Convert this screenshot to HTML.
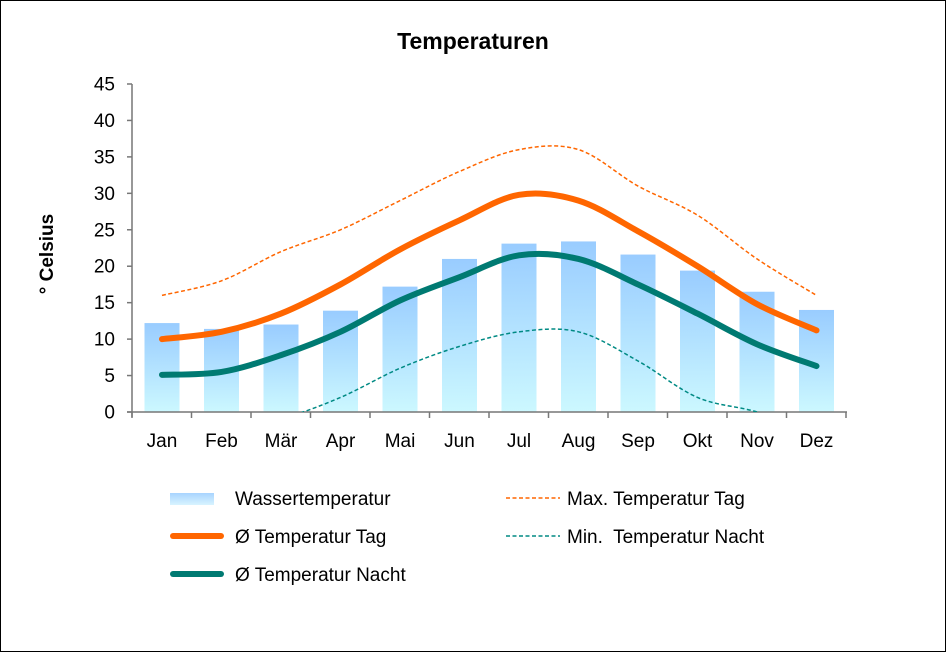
<!DOCTYPE html>
<html><head><meta charset="utf-8"><style>
html,body{margin:0;padding:0;background:#fff;}
svg{display:block;font-family:"Liberation Sans",sans-serif;}
</style></head><body>
<svg id="s" width="946" height="652" viewBox="0 0 946 652" xmlns="http://www.w3.org/2000/svg">
<defs>
<linearGradient id="bg" x1="0" y1="0" x2="0" y2="1">
<stop offset="0" stop-color="#99ccff"/><stop offset="1" stop-color="#ccf8ff"/></linearGradient>
<linearGradient id="lg" x1="0" y1="0" x2="0" y2="1">
<stop offset="0" stop-color="#a8d4ff"/><stop offset="1" stop-color="#d8f4ff"/></linearGradient>
<clipPath id="cp"><rect x="132" y="60" width="720" height="352"/></clipPath>
</defs>
<rect x="0.5" y="0.5" width="945" height="651" fill="#fff" stroke="#000" stroke-width="1"/>
<text x="473" y="49" text-anchor="middle" font-size="23" font-weight="bold">Temperaturen</text>
<text transform="translate(53,254) rotate(-90)" text-anchor="middle" font-size="19" font-weight="bold">° Celsius</text>
<g id="g"></g>
<rect x="170" y="493" width="44" height="12" fill="url(#lg)"/>
<text x="235" y="505" font-size="19">Wassertemperatur</text>
<line x1="173" y1="536" x2="221" y2="536" stroke="#ff6600" stroke-width="6" stroke-linecap="round"/>
<text x="235" y="543" font-size="19">Ø Temperatur Tag</text>
<line x1="173" y1="574" x2="221" y2="574" stroke="#007a72" stroke-width="6" stroke-linecap="round"/>
<text x="235" y="581" font-size="19">Ø Temperatur Nacht</text>
<line x1="506" y1="498" x2="560" y2="498" stroke="#ff6600" stroke-width="1.5" stroke-dasharray="4,2.5"/>
<text x="567" y="505" font-size="19">Max. Temperatur Tag</text>
<line x1="506" y1="536" x2="560" y2="536" stroke="#008a84" stroke-width="1.5" stroke-dasharray="4,2.5"/>
<text x="567" y="543" font-size="19" xml:space="preserve">Min.  Temperatur Nacht</text>
</svg>
<script>
var g=document.getElementById('g');
function Y(v){return 412-v*7.289;}
function X(i){return 162+i*59.5;}
var h='';
var bars=[12.2,11.4,12,13.9,17.2,21,23.1,23.4,21.6,19.4,16.5,14];
bars.forEach(function(b,i){h+='<rect x="'+(X(i)-17.5)+'" y="'+Y(b)+'" width="35" height="'+(412-Y(b))+'" fill="url(#bg)"/>';});
h+='<line x1="132" y1="84" x2="132" y2="417" stroke="#777" stroke-width="1.5"/>';
h+='<line x1="127" y1="412" x2="847" y2="412" stroke="#777" stroke-width="1.5"/>';
for(var v=0;v<=45;v+=5){var y=Y(v);h+='<line x1="127" y1="'+y+'" x2="132" y2="'+y+'" stroke="#777" stroke-width="1.5"/>';
h+='<text x="115" y="'+(y+6.5)+'" text-anchor="end" font-size="19">'+v+'</text>';}
var m=['Jan','Feb','Mär','Apr','Mai','Jun','Jul','Aug','Sep','Okt','Nov','Dez'];
for(var i=0;i<=12;i++){var x=132+i*59.5;h+='<line x1="'+x+'" y1="412" x2="'+x+'" y2="418" stroke="#777" stroke-width="1.5"/>';}
m.forEach(function(t,i){h+='<text x="'+X(i)+'" y="447" text-anchor="middle" font-size="19">'+t+'</text>';});
function path(d){var p=d.map(function(v,i){return [X(i),Y(v)];});
 var s='M'+p[0][0]+','+p[0][1];
 for(var i=0;i<p.length-1;i++){var p0=p[Math.max(0,i-1)],p1=p[i],p2=p[i+1],p3=p[Math.min(p.length-1,i+2)];
 var c1=[p1[0]+(p2[0]-p0[0])/6,p1[1]+(p2[1]-p0[1])/6],c2=[p2[0]-(p3[0]-p1[0])/6,p2[1]-(p3[1]-p1[1])/6];
 s+=' C'+c1+' '+c2+' '+p2;}return s;}
var mx=[16,18,22,25,29,33,36,36,31,27,21,16];
var mn=[-5,-3,-1,2,6,9,11,11,7,2,0,-3];
var tg=[10,11,13.5,17.5,22.3,26.3,29.8,29,24.8,20,14.8,11.2];
var nt=[5.1,5.5,7.8,11,15.3,18.5,21.5,21,17.5,13.5,9.3,6.3];
h+='<path d="'+path(mx)+'" fill="none" stroke="#ff6600" stroke-width="1.5" stroke-dasharray="4,2.5"/>';
h+='<path clip-path="url(#cp)" d="'+path(mn)+'" fill="none" stroke="#008a84" stroke-width="1.5" stroke-dasharray="4,2.5"/>';
h+='<path d="'+path(tg)+'" fill="none" stroke="#ff6600" stroke-width="6" stroke-linecap="round"/>';
h+='<path d="'+path(nt)+'" fill="none" stroke="#007a72" stroke-width="6" stroke-linecap="round"/>';
g.innerHTML=h;
</script>
</body></html>
